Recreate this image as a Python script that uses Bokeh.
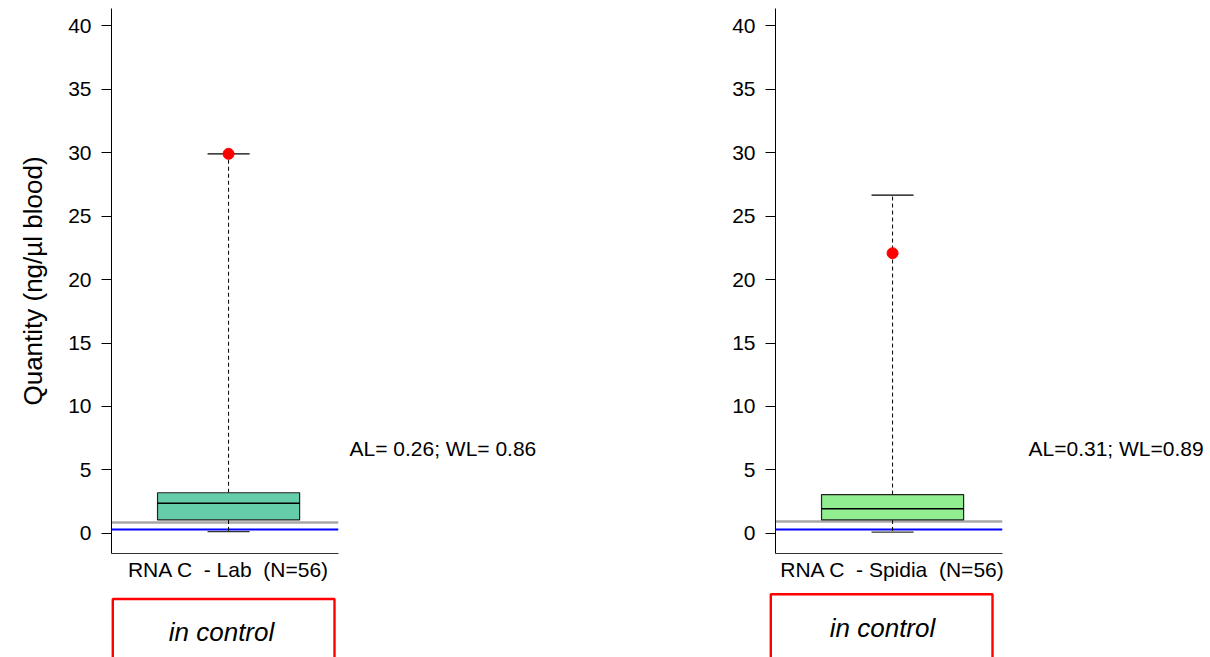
from bokeh.plotting import figure
from bokeh.models import Range1d, FixedTicker, Spacer
from bokeh.layouts import column, row
from bokeh.embed import file_html
from bokeh.resources import INLINE
from bokeh.core.properties import value

# ---- data ----
groups = ["RNA C\u00a0 - Lab\u00a0 (N=56)", "RNA C\u00a0 - Spidia\u00a0 (N=56)"]
q1 = [1.05, 1.05]
median = [2.37, 1.92]
q3 = [3.19, 3.05]
lower_whisker = [0.13, 0.08]
upper_whisker = [29.92, 26.66]
highlight = [29.92, 22.08]
action_limit = [0.26, 0.31]
warning_limit = [0.86, 0.89]
limit_labels = ["AL= 0.26; WL= 0.86", "AL=0.31; WL=0.89"]
status = ["in control", "in control"]
box_colors = ["#66CDAA", "#90EE90"]
y_ticks = [0, 5, 10, 15, 20, 25, 30, 35, 40]
y_title = "Quantity (ng/\u00b5l blood)"

FONT = "Liberation Sans"
BOX_W = 0.676
CAP_HALF = 0.1
TOP_H = 592
Y_LO, Y_HI = -1.6, 41.38


def make_panel(i, width, border_left):
    p = figure(width=width, height=TOP_H,
               x_range=Range1d(0.443, 1.523), y_range=Range1d(Y_LO, Y_HI),
               output_backend="svg", toolbar_location=None,
               min_border_left=border_left, min_border_right=width - border_left - 227,
               min_border_top=8, min_border_bottom=39)
    p.xgrid.visible = False
    p.ygrid.visible = False
    p.outline_line_color = None

    ya = p.yaxis[0]
    ya.ticker = FixedTicker(ticks=y_ticks)
    ya.major_tick_out = 10
    ya.major_tick_in = 0
    ya.minor_tick_out = 0
    ya.minor_tick_in = 0
    ya.major_label_standoff = 10
    ya.major_label_text_font = FONT
    ya.major_label_text_font_size = "21px"
    ya.major_label_text_color = "black"
    ya.axis_line_color = "black"
    ya.major_tick_line_color = "black"
    if i == 0:
        ya.axis_label = y_title
        ya.axis_label_text_font = FONT
        ya.axis_label_text_font_size = "26px"
        ya.axis_label_text_font_style = "normal"
        ya.axis_label_text_color = "black"
        ya.axis_label_standoff = 17

    xa = p.xaxis[0]
    xa.ticker = FixedTicker(ticks=[1])
    xa.major_label_overrides = {1: groups[i]}
    xa.major_tick_out = 0
    xa.major_tick_in = 0
    xa.minor_tick_out = 0
    xa.minor_tick_in = 0
    xa.major_label_standoff = 4
    xa.major_label_text_font = FONT
    xa.major_label_text_font_size = "21px"
    xa.major_label_text_color = "black"
    xa.axis_line_color = "#333333"

    # limit lines
    p.hspan(y=[warning_limit[i]], line_color="#A8A8A8", line_width=2.5)
    p.hspan(y=[action_limit[i]], line_color="#0000FF", line_width=2)

    # whiskers
    p.segment(x0=[1], y0=[q3[i]], x1=[1], y1=[upper_whisker[i]],
              line_color="black", line_width=1, line_dash="4 3")
    p.segment(x0=[1], y0=[q1[i]], x1=[1], y1=[lower_whisker[i]],
              line_color="black", line_width=1, line_dash="4 3")
    p.segment(x0=[1 - CAP_HALF], y0=[upper_whisker[i]], x1=[1 + CAP_HALF], y1=[upper_whisker[i]],
              line_color="black", line_width=1.2)
    p.segment(x0=[1 - CAP_HALF], y0=[lower_whisker[i]], x1=[1 + CAP_HALF], y1=[lower_whisker[i]],
              line_color="#333333", line_width=1.2)

    # box
    p.vbar(x=[1], width=BOX_W, bottom=[q1[i]], top=[q3[i]],
           fill_color=box_colors[i], line_color="#222222", line_width=1.2)
    p.segment(x0=[1 - BOX_W / 2], y0=[median[i]], x1=[1 + BOX_W / 2], y1=[median[i]],
              line_color="black", line_width=1.5)

    # highlighted point
    p.scatter(x=[1], y=[highlight[i]], size=11, fill_color="#FF0000", line_color="#FF0000")
    return p


def make_limit_label(i, width, text_x):
    q = figure(width=width, height=TOP_H,
               x_range=Range1d(0, width), y_range=Range1d(Y_LO, Y_HI),
               output_backend="svg", toolbar_location=None,
               x_axis_location=None, y_axis_location=None,
               min_border_left=0, min_border_right=0, min_border_top=8, min_border_bottom=39)
    q.xgrid.visible = False
    q.ygrid.visible = False
    q.outline_line_color = None
    q.text(x=[text_x], y=[6.7], text=[limit_labels[i]],
           text_font=value(FONT), text_font_size="21px", text_color="black",
           text_align="left", text_baseline="alphabetic")
    return q


def make_status(i, height, top_y, text_x, text_y):
    b = figure(width=230, height=height, x_range=Range1d(0, 230), y_range=Range1d(0, height),
               output_backend="svg", toolbar_location=None,
               x_axis_location=None, y_axis_location=None,
               min_border_left=0, min_border_right=0, min_border_top=0, min_border_bottom=0)
    b.xgrid.visible = False
    b.ygrid.visible = False
    b.outline_line_color = None
    b.quad(left=[4.3], right=[226], top=[top_y], bottom=[-10],
           fill_color=None, line_color="#FF0000", line_width=2.4)
    b.text(x=[text_x], y=[text_y], text=[status[i]],
           text_font=value(FONT), text_font_size="26px", text_font_style="italic",
           text_color="black", text_align="center", text_baseline="alphabetic")
    return b


left = make_panel(0, 345, 111)
left_lab = make_limit_label(0, 345, 4)
right = make_panel(1, 332, 85)
right_lab = make_limit_label(1, 188, 6)

BOT_H = 65
status_left = make_status(0, BOT_H, 58.5, 113, 26)
status_right = make_status(1, BOT_H, 63.3, 116, 30)

layout = column(
    row(left, left_lab, right, right_lab, spacing=0),
    row(Spacer(width=108, height=BOT_H), status_left,
        Spacer(width=428, height=BOT_H), status_right, spacing=0),
    spacing=0,
)

open("out.html", "w").write(file_html(layout, INLINE))
